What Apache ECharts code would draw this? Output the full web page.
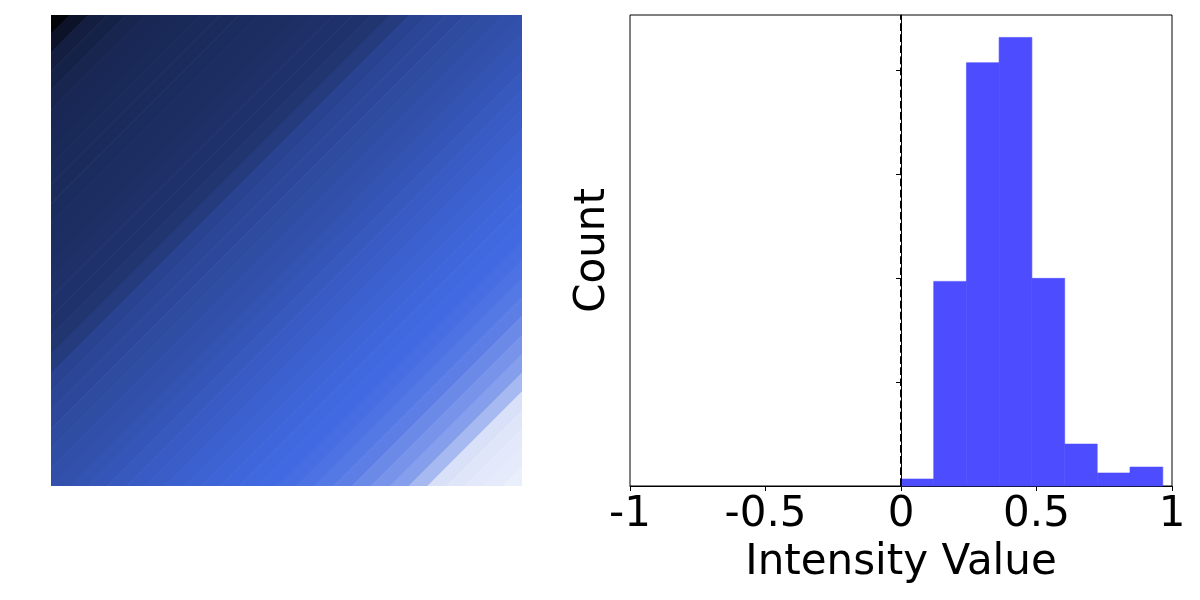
<!DOCTYPE html>
<html>
<head>
<meta charset="utf-8">
<script src="https://cdn.jsdelivr.net/npm/echarts@6/dist/echarts.min.js"></script>
<style>
  html, body { margin: 0; padding: 0; background: #fff; }
  #chart { width: 1200px; height: 600px; }
</style>
</head>
<body>
<div id="chart"></div>
<script>
// image intensity along the diagonal, top-left corner -> bottom-right corner
// (one value per diagonal band of equal width)
var diagProfile = [
  0.019, 0.087, 0.140, 0.155, 0.169, 0.179, 0.184, 0.188, 0.193, 0.198,
  0.203, 0.208, 0.213, 0.217, 0.222, 0.227, 0.232, 0.242, 0.270, 0.309,
  0.324, 0.333, 0.343, 0.353, 0.362, 0.372, 0.386, 0.396, 0.406, 0.420,
  0.430, 0.444, 0.454, 0.464, 0.469, 0.478, 0.483, 0.497, 0.512, 0.531,
  0.555, 0.589, 0.623, 0.657, 0.739, 0.869, 0.884, 0.894, 0.903, 0.913
];
var colorMax = 0.966;

// histogram of intensity values
var binEdges = [0, 0.1207, 0.2415, 0.362, 0.483, 0.604, 0.724, 0.845, 0.966];
var binCounts = [67, 1967, 4069, 4312, 1996, 403, 125, 182];
var countTicks = [0, 1000, 2000, 3000, 4000];
var xTicks = [-1, -0.5, 0, 0.5, 1];

var K = diagProfile.length;
var bands = [];
for (var k = 0; k < K; k++) {
  bands.push([k / K, (k + 1) / K, diagProfile[k]]);
}
var bins = [];
for (var b = 0; b < binCounts.length; b++) {
  bins.push([binEdges[b], binEdges[b + 1], binCounts[b]]);
}
var yMax = Math.max.apply(null, binCounts) * 1.05;

// ends of the line x + y = c inside the unit square
function edgePts(c) {
  return c <= 1 ? [[c, 0], [0, c]] : [[1, c - 1], [c - 1, 1]];
}

var font = 'DejaVu Sans';
var chart = echarts.init(document.getElementById('chart'));
chart.setOption({
  animation: false,
  textStyle: { fontFamily: font },
  grid: [
    { left: 51, top: 15, width: 471, height: 471 },
    { left: 630, top: 15, width: 542, height: 471, show: true,
      borderColor: '#000', borderWidth: 1, backgroundColor: 'transparent' }
  ],
  xAxis: [
    { gridIndex: 0, type: 'value', min: 0, max: 1, show: false },
    {
      gridIndex: 1, type: 'value', min: -1, max: 1, interval: 0.5,
      name: 'Intensity Value', nameLocation: 'middle', nameGap: 56,
      nameTextStyle: { fontSize: 42, color: '#000', fontFamily: font },
      axisLine: { lineStyle: { color: '#000', width: 1 } },
      axisTick: { show: true, length: 5, lineStyle: { color: '#000' } },
      axisLabel: { fontSize: 42, color: '#000', margin: 8, fontFamily: font,
        formatter: function (v) { return xTicks.indexOf(v) >= 0 ? String(v) : ''; } },
      splitLine: { show: false }
    }
  ],
  yAxis: [
    { gridIndex: 0, type: 'value', min: 0, max: 1, show: false, inverse: true },
    {
      gridIndex: 1, type: 'value', min: 0, max: yMax,
      name: 'Count', nameLocation: 'middle', nameGap: 16, nameRotate: 90,
      nameTextStyle: { fontSize: 42, color: '#000', fontFamily: font },
      axisLine: { show: true, lineStyle: { color: '#000', width: 1 } },
      axisTick: { show: true, length: 5, customValues: countTicks, lineStyle: { color: '#000' } },
      axisLabel: { show: false },
      splitLine: { show: false }
    }
  ],
  visualMap: {
    show: false, type: 'continuous', seriesIndex: 0, dimension: 2,
    min: 0, max: colorMax,
    inRange: { color: ['#000000', '#4169e1', '#ffffff'] }
  },
  series: [
    {
      // the image: diagonal bands coloured by intensity
      type: 'custom', xAxisIndex: 0, yAxisIndex: 0,
      data: bands, silent: true, clip: true,
      renderItem: function (params, api) {
        var c0 = 2 * api.value(0), c1 = 2 * api.value(1);
        var a = edgePts(c0), e = edgePts(c1);
        var pts = [a[0]];
        if (c0 < 1 && c1 > 1) pts.push([1, 0]);
        pts.push(e[0], e[1]);
        if (c0 < 1 && c1 > 1) pts.push([0, 1]);
        pts.push(a[1]);
        var color = api.visual('color');
        return {
          type: 'polygon',
          shape: { points: pts.map(function (p) { return api.coord(p); }) },
          style: { fill: color, stroke: color, lineWidth: 1 }
        };
      }
    },
    {
      type: 'custom', xAxisIndex: 1, yAxisIndex: 1,
      data: bins,
      encode: { x: [0, 1], y: 2 },
      renderItem: function (params, api) {
        var p0 = api.coord([api.value(0), api.value(2)]);
        var p1 = api.coord([api.value(1), 0]);
        return {
          type: 'rect',
          shape: { x: p0[0], y: p0[1], width: p1[0] - p0[0], height: p1[1] - p0[1] },
          style: { fill: '#4d4dff', stroke: '#4d4dff', lineWidth: 0.6 }
        };
      },
      z: 2
    },
    {
      type: 'line', xAxisIndex: 1, yAxisIndex: 1, data: [],
      markLine: {
        silent: true, symbol: 'none', label: { show: false },
        lineStyle: { color: '#000', type: [7.7, 3.4], width: 2 },
        data: [{ xAxis: 0 }]
      },
      z: 3
    }
  ]
});
</script>
</body>
</html>
